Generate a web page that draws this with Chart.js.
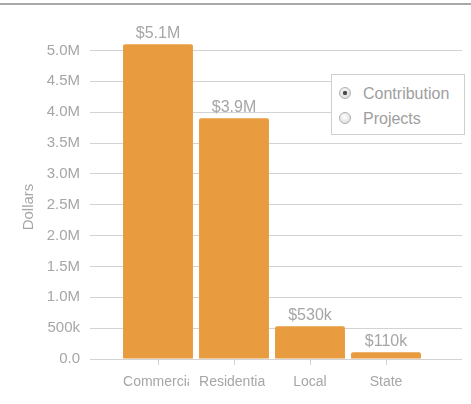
<!DOCTYPE html>
<html>
<head>
<meta charset="utf-8">
<script src="https://cdn.jsdelivr.net/npm/chart.js@4/dist/chart.umd.min.js"></script>
<style>
  html, body { margin: 0; padding: 0; background: #fff; }
  #wrap { position: relative; width: 471px; height: 404px; overflow: hidden; }
  #topRule { position: absolute; left: 0; top: 3px; width: 471px; height: 2px; background: #a9a9a9; }
  canvas { position: absolute; left: 0; top: 0; }
  #picker {
    position: absolute; left: 331px; top: 74px; width: 132px; height: 59px;
    border: 1px solid #cfcfcf; background: #fff;
    font-family: "Liberation Sans", Arial, sans-serif; font-size: 16px; color: #9e9e9e;
  }
  .opt { position: absolute; left: 7px; height: 18px; line-height: 18px; }
  .dot {
    position: absolute; left: 0; top: 2px; width: 12px; height: 12px; border-radius: 50%;
    border: 1px solid #b0b0b0; box-sizing: border-box;
    background: radial-gradient(circle at 45% 40%, #ffffff 0%, #e8e8e8 55%, #cccccc 100%);
  }
  .dot.on::after {
    content: ""; position: absolute; left: 3px; top: 3px; width: 4px; height: 4px;
    border-radius: 50%; background: #4a4a4a; box-shadow: 0 0 1px #4a4a4a;
  }
  .txt { position: absolute; left: 24px; top: 0; white-space: nowrap; }
</style>
</head>
<body>
<div id="wrap">
  <canvas id="c" width="471" height="404"></canvas>
  <div id="topRule"></div>
  <div id="picker">
    <div class="opt" style="top:10px"><span class="dot on"></span><span class="txt">Contribution</span></div>
    <div class="opt" style="top:35px"><span class="dot"></span><span class="txt">Projects</span></div>
  </div>
</div>
<script>
// Contribution totals by sector
const categories = ['Commercial', 'Residential', 'Local', 'State'];
const contribution = [5100000, 3900000, 530000, 110000];
const valueLabels = ['$5.1M', '$3.9M', '$530k', '$110k'];
const yTickValues = [0, 500000, 1000000, 1500000, 2000000, 2500000, 3000000, 3500000, 4000000, 4500000, 5000000];
const yTitle = 'Dollars';

const FONT = '"Liberation Sans", Arial, sans-serif';
const GREY_TEXT = '#a6a6a6';
const GRID = '#d3d3d3';

function fmtDollarAxis(v) {
  if (v === 0) return '0.0';
  if (v < 1000000) return (v / 1000) + 'k';
  return (v / 1000000).toFixed(1) + 'M';
}

function keepTicks(scale) {
  scale.ticks = yTickValues.map(v => ({ value: v }));
}

// bar value captions, category names (clipped to the bar width) and the axis title
const annotatePlugin = {
  id: 'annotate',
  afterDatasetsDraw(chart) {
    const ctx = chart.ctx;
    const meta = chart.getDatasetMeta(0);
    ctx.save();
    ctx.font = '16px ' + FONT;
    ctx.fillStyle = GREY_TEXT;
    ctx.textAlign = 'center';
    ctx.textBaseline = 'alphabetic';
    meta.data.forEach((bar, i) => {
      ctx.fillText(valueLabels[i], bar.x, bar.y - 6);
    });
    ctx.restore();
  },
  afterDraw(chart) {
    const ctx = chart.ctx;
    const xs = chart.scales.x;
    const meta = chart.getDatasetMeta(0);
    ctx.save();
    ctx.font = '14px ' + FONT;
    ctx.fillStyle = GREY_TEXT;
    ctx.textBaseline = 'middle';
    categories.forEach((name, i) => {
      const cx = xs.getPixelForTick(i);
      const left = cx - meta.data[i].width / 2;
      const w = meta.data[i].width - 4;
      const tw = ctx.measureText(name).width;
      ctx.save();
      ctx.beginPath();
      ctx.rect(left, xs.top, w, xs.height);
      ctx.clip();
      if (tw > w) {
        ctx.textAlign = 'left';
        ctx.fillText(name, left, xs.top + 23);
      } else {
        ctx.textAlign = 'center';
        ctx.fillText(name, cx, xs.top + 23);
      }
      ctx.restore();
    });
    // rotated axis title
    ctx.textAlign = 'center';
    ctx.translate(29, 207);
    ctx.rotate(-Math.PI / 2);
    ctx.font = '15px ' + FONT;
    ctx.fillText(yTitle, 0, 0);
    ctx.restore();
  }
};

new Chart(document.getElementById('c'), {
  type: 'bar',
  data: {
    labels: categories,
    datasets: [{
      label: 'Contribution',
      data: contribution,
      backgroundColor: '#e89c3f',
      borderRadius: { topLeft: 2, topRight: 2, bottomLeft: 0, bottomRight: 0 },
      borderSkipped: 'bottom',
      categoryPercentage: 1.0,
      barPercentage: 0.92
    }]
  },
  options: {
    responsive: false,
    animation: false,
    layout: { padding: { top: 35, right: 9, left: 0, bottom: 0 } },
    plugins: { legend: { display: false }, tooltip: { enabled: false } },
    scales: {
      x: {
        offset: true,
        border: { display: false },
        grid: { display: true, drawOnChartArea: false, drawTicks: true, tickLength: 6, offset: false, color: GRID },
        ticks: { display: false },
        afterFit(scale) { scale.height = 45; }
      },
      y: {
        min: 0, max: 5250000,
        afterBuildTicks: keepTicks,
        border: { display: false },
        grid: { color: GRID, tickLength: 30, drawTicks: true },
        ticks: {
          color: GREY_TEXT, font: { family: FONT, size: 15 }, padding: 10,
          callback: v => fmtDollarAxis(v)
        },
        afterFit(scale) { scale.width = 120; }
      },
      y2: {
        position: 'right',
        min: 0, max: 5250000,
        afterBuildTicks: keepTicks,
        border: { display: false },
        grid: { color: GRID, tickLength: 38, drawTicks: true, drawOnChartArea: false },
        ticks: { display: false },
        afterFit(scale) { scale.width = 38; }
      }
    }
  },
  plugins: [annotatePlugin]
});
</script>
</body>
</html>
